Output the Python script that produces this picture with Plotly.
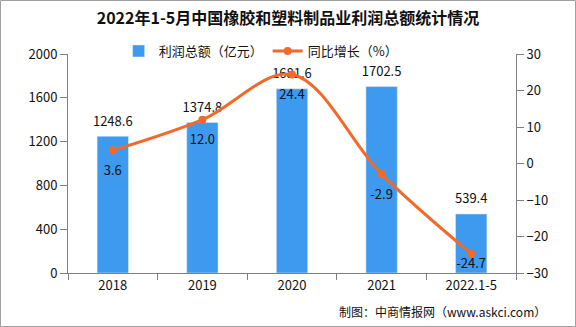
import plotly.graph_objects as go

categories = ["2018", "2019", "2020", "2021", "2022.1-5"]
profit = [1248.6, 1374.8, 1681.6, 1702.5, 539.4]
growth = [3.6, 12.0, 24.4, -2.9, -24.7]

font_cjk = "Noto Sans CJK SC"
bar_color = "#3E9AEE"
line_color = "#F26A2A"
axis_color = "#7F7F7F"
clear = "rgba(0,0,0,0)"

fig = go.Figure()
fig.add_trace(go.Bar(
    x=categories, y=profit, name="利润总额（亿元）",
    marker_color=bar_color, width=0.35,
))
fig.add_trace(go.Scatter(
    x=categories, y=profit, showlegend=False, hoverinfo="skip",
    mode="markers+text", marker=dict(size=10, color=clear, line=dict(width=0, color=clear)),
    text=[f"{v:.1f}" for v in profit], textposition="top center",
    textfont=dict(size=13, color="#111111"), cliponaxis=False,
))
fig.add_trace(go.Scatter(
    x=categories, y=growth, name="同比增长（%）", yaxis="y2",
    mode="lines+markers", line=dict(color=line_color, width=3, shape="spline"),
    marker=dict(size=8, color=line_color), cliponaxis=False,
))
fig.add_trace(go.Scatter(
    x=categories, y=growth, yaxis="y2", showlegend=False, hoverinfo="skip",
    mode="markers+text",
    marker=dict(size=[22, 22, 22, 22, 6], color=clear, line=dict(width=0, color=clear)),
    text=[f"{v:.1f}" for v in growth], textposition="bottom center",
    textfont=dict(size=13, color="#111111"), cliponaxis=False,
))

pw = 576 - 68 - 60
ph = 327 - 54 - 54
fig.update_layout(
    width=576, height=327,
    margin=dict(l=68, r=60, t=54, b=54),
    paper_bgcolor="white", plot_bgcolor="white",
    font=dict(family=font_cjk, size=13, color="#111111"),
    title=dict(text="<b>2022年1-5月中国橡胶和塑料制品业利润总额统计情况</b>",
               x=0.5, xanchor="center", y=1 - 18 / 327, yanchor="middle",
               font=dict(size=16, color="#111111")),
    showlegend=True,
    legend=dict(orientation="h", x=0.43, xanchor="center", y=1 + 3 / ph, yanchor="middle",
                bgcolor="rgba(0,0,0,0)", font=dict(size=13), itemwidth=30),
    bargap=0.65,
    xaxis=dict(type="category", showline=True, linecolor=axis_color, linewidth=1,
               ticks="outside", tickson="boundaries", ticklen=6, tickcolor=axis_color,
               showgrid=False, tickfont=dict(size=13)),
    yaxis=dict(range=[0, 2000], dtick=400, showline=True, linecolor=axis_color,
               ticks="outside", ticklen=7, tickcolor=axis_color, showgrid=False,
               zeroline=False, tickfont=dict(size=13)),
    yaxis2=dict(range=[-30, 30], dtick=10, overlaying="y", side="right",
                showline=True, linecolor=axis_color, ticks="outside", ticklen=7,
                tickcolor=axis_color, showgrid=False, zeroline=False,
                tickfont=dict(size=13)),
    annotations=[
        dict(text="制图：中商情报网（www.askci.com）", xref="paper", yref="paper",
             x=(548 - 68) / pw, xanchor="right", y=-(311 - 273) / ph, yanchor="middle",
             showarrow=False, font=dict(size=12, color="#111111")),
    ],
    shapes=[
        dict(type="rect", xref="paper", yref="paper",
             x0=-67.5 / pw, x1=1 + 59.5 / pw, y0=-53.5 / ph, y1=1 + 53.5 / ph,
             line=dict(color="#A0A0A0", width=1)),
    ],
)

fig.write_html("out.html")
